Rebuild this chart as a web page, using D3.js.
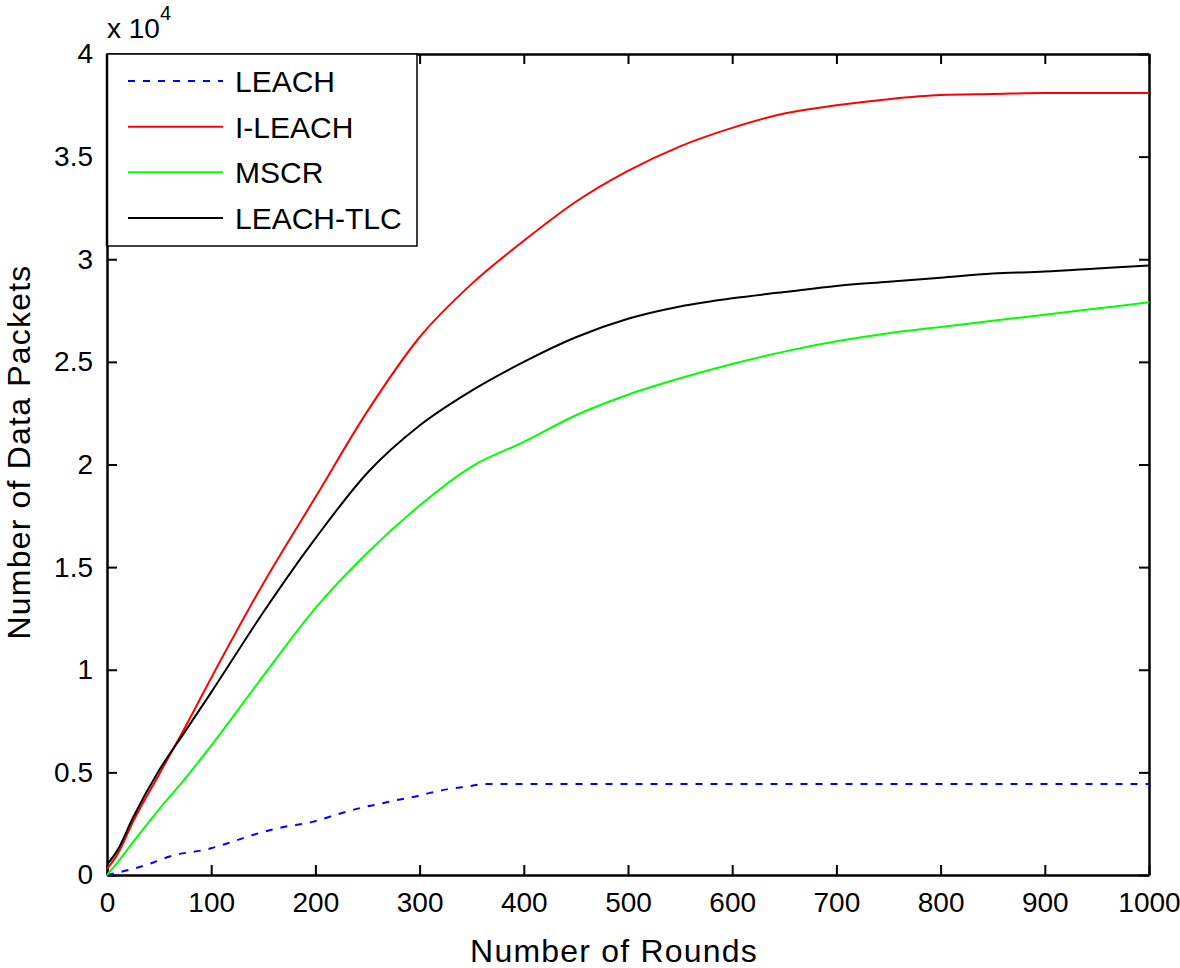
<!DOCTYPE html>
<html>
<head>
<meta charset="utf-8">
<script src="https://cdn.jsdelivr.net/npm/d3@7"></script>
<style>
body { margin: 0; background: #fff; }
text { font-family: "Liberation Sans", Arial, sans-serif; fill: #000; }
</style>
</head>
<body>
<script>
var width = 1180;
var height = 968;

// rounds sampled for the three smooth curves
var rounds = [0, 10, 25, 50, 75, 100, 150, 200, 250, 300, 350, 400, 450, 500, 550, 600, 650, 700, 750, 800, 850, 900, 950, 1000];
// values in units of 10^4 packets
var ileach   = [0.03, 0.1, 0.26, 0.49, 0.72, 0.96, 1.42, 1.84, 2.26, 2.62, 2.88, 3.09, 3.28, 3.43, 3.55, 3.64, 3.71, 3.75, 3.78, 3.80, 3.805, 3.81, 3.81, 3.81];
var leachTlc = [0.05, 0.12, 0.28, 0.51, 0.7, 0.89, 1.28, 1.64, 1.96, 2.19, 2.36, 2.5, 2.62, 2.71, 2.77, 2.81, 2.84, 2.87, 2.89, 2.91, 2.93, 2.94, 2.955, 2.97];
var mscr     = [0.0, 0.06, 0.16, 0.32, 0.47, 0.63, 0.97, 1.3, 1.57, 1.8, 1.99, 2.11, 2.24, 2.34, 2.42, 2.49, 2.55, 2.6, 2.64, 2.67, 2.7, 2.73, 2.76, 2.79];

// LEACH levels off early, so it gets its own sampling
var leachRounds  = [0, 25, 44, 60, 100, 113, 125, 140, 166, 198, 224, 246, 265, 278, 294, 310, 329, 348, 361, 1000];
var leachPackets = [0, 0.03, 0.06, 0.09, 0.13, 0.15, 0.17, 0.195, 0.23, 0.26, 0.3, 0.33, 0.35, 0.365, 0.38, 0.4, 0.42, 0.433, 0.443, 0.443];

var xTicks = [0, 100, 200, 300, 400, 500, 600, 700, 800, 900, 1000];
var yTicks = [0, 0.5, 1, 1.5, 2, 2.5, 3, 3.5, 4];

var legendNames = ["LEACH", "I-LEACH", "MSCR", "LEACH-TLC"];
var legendColors = ["#0000ff", "#ff0000", "#00ff00", "#000000"];
var legendDash = ["7,8", null, null, null];

var plotLeft = 107, plotRight = 1149, plotTop = 54, plotBottom = 875;

var svg = d3.select("body")
    .append("svg")
    .attr("width", width)
    .attr("height", height);

var x = d3.scaleLinear().domain([0, 1000]).range([plotLeft, plotRight]);
var y = d3.scaleLinear().domain([0, 4]).range([plotBottom, plotTop]);

var fmtY = function(d) { return d3.format("~g")(d); };

// axes, ticks point inward like matlab
svg.append("g")
    .attr("transform", "translate(0," + plotBottom + ")")
    .call(d3.axisBottom(x).tickValues(xTicks).tickSizeInner(-10).tickSizeOuter(0).tickPadding(17).tickFormat(d3.format("d")));
svg.append("g")
    .attr("transform", "translate(0," + plotTop + ")")
    .call(d3.axisTop(x).tickValues(xTicks).tickSizeInner(-10).tickSizeOuter(0).tickFormat(""));
svg.append("g")
    .attr("transform", "translate(" + plotLeft + ",0)")
    .call(d3.axisLeft(y).tickValues(yTicks).tickSizeInner(-10).tickSizeOuter(0).tickPadding(14).tickFormat(fmtY));
svg.append("g")
    .attr("transform", "translate(" + plotRight + ",0)")
    .call(d3.axisRight(y).tickValues(yTicks).tickSizeInner(-10).tickSizeOuter(0).tickFormat(""));

svg.selectAll(".domain").attr("stroke", "#000").attr("stroke-width", 2.5);
svg.selectAll(".tick line").attr("stroke", "#000").attr("stroke-width", 2);
svg.selectAll(".tick text")
    .attr("font-family", "Liberation Sans, Arial, sans-serif")
    .attr("font-size", "28px")
    .attr("fill", "#000");

// series
var line = d3.line()
    .curve(d3.curveMonotoneX)
    .x(function(d) { return x(d[0]); })
    .y(function(d) { return y(d[1]); });

var series = [
    { pts: d3.zip(leachRounds, leachPackets), color: legendColors[0], dash: legendDash[0] },
    { pts: d3.zip(rounds, ileach), color: legendColors[1], dash: null },
    { pts: d3.zip(rounds, mscr), color: legendColors[2], dash: null },
    { pts: d3.zip(rounds, leachTlc), color: legendColors[3], dash: null }
];

svg.selectAll("path.series")
    .data(series)
    .enter()
    .append("path")
    .attr("class", "series")
    .attr("d", function(d) { return line(d.pts); })
    .attr("fill", "none")
    .attr("stroke", function(d) { return d.color; })
    .attr("stroke-width", 2)
    .attr("stroke-dasharray", function(d) { return d.dash; });

// exponent label
var expo = svg.append("text")
    .attr("x", 107)
    .attr("y", 38)
    .attr("font-size", "28px");
expo.append("tspan").text("x 10");
expo.append("tspan").attr("dy", -18).attr("font-size", "20px").text("4");

// axis titles
svg.append("text")
    .attr("x", 614)
    .attr("y", 962)
    .attr("text-anchor", "middle")
    .attr("font-size", "32px")
    .attr("letter-spacing", "1.2px")
    .text("Number of Rounds");

svg.append("text")
    .attr("transform", "translate(30,452) rotate(-90)")
    .attr("text-anchor", "middle")
    .attr("font-size", "32px")
    .attr("letter-spacing", "1.2px")
    .text("Number of Data Packets");

// legend box
var legend = svg.append("g");
legend.append("rect")
    .attr("x", plotLeft)
    .attr("y", plotTop)
    .attr("width", 310)
    .attr("height", 192)
    .attr("fill", "#fff")
    .attr("stroke", "#000")
    .attr("stroke-width", 1.5);
legend.append("line")
    .attr("x1", plotLeft).attr("x2", plotLeft)
    .attr("y1", plotTop).attr("y2", plotTop + 192)
    .attr("stroke", "#000")
    .attr("stroke-width", 2.5);

var rowY = d3.scalePoint().domain(legendNames).range([81, 218]);

var rows = legend.selectAll("g.row")
    .data(legendNames)
    .enter()
    .append("g")
    .attr("class", "row");

rows.append("line")
    .attr("x1", 128)
    .attr("x2", 223)
    .attr("y1", function(d) { return rowY(d); })
    .attr("y2", function(d) { return rowY(d); })
    .attr("stroke", function(d, i) { return legendColors[i]; })
    .attr("stroke-width", 2)
    .attr("stroke-dasharray", function(d, i) { return legendDash[i]; });

rows.append("text")
    .attr("x", 235)
    .attr("y", function(d) { return rowY(d) + 11; })
    .attr("font-size", "30px")
    .text(function(d) { return d; });
</script>
</body>
</html>
